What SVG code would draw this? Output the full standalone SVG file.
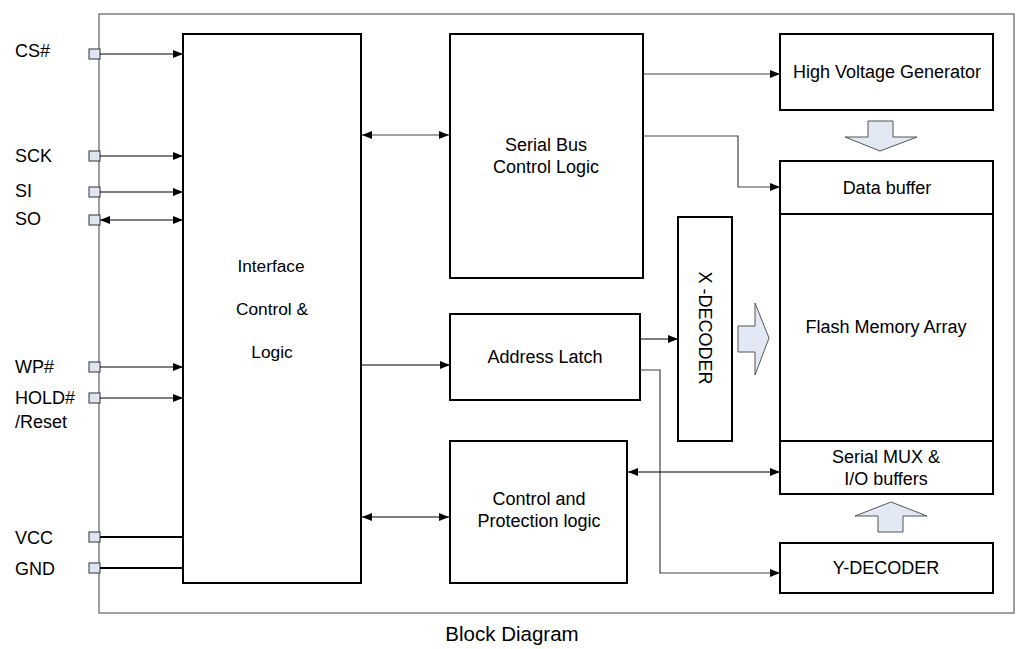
<svg xmlns="http://www.w3.org/2000/svg" width="1024" height="649" viewBox="0 0 1024 649">
<defs>
<marker id="ah" viewBox="0 0 10 8" refX="10" refY="4" markerWidth="10" markerHeight="8" markerUnits="userSpaceOnUse" orient="auto-start-reverse">
<path d="M0,0 L10,4 L0,8 Z" fill="#000"/>
</marker>
<style>
.blk{fill:#fff;stroke:#000;stroke-width:2}
.t{font-family:"Liberation Sans",Arial,sans-serif;font-size:18px;fill:#000;text-anchor:middle}
.ti{font-family:"Liberation Sans",Arial,sans-serif;font-size:17.3px;fill:#000;text-anchor:middle}
.pl{font-family:"Liberation Sans",Arial,sans-serif;font-size:18px;fill:#000}
.pin{fill:#dfe6f2;stroke:#333;stroke-width:1}
.c{fill:none;stroke:#000;stroke-width:1.2}
.cg{fill:none;stroke:#444;stroke-width:1.2}
.big{fill:#e3e9f4;stroke:#555;stroke-width:1}
</style>
</defs>
<rect width="1024" height="649" fill="#fff"/>
<rect id="frame" x="99" y="14" width="915" height="599" fill="none" stroke="#808080" stroke-width="1.5"/>

<g id="pins">
<rect class="pin" x="89" y="49" width="11" height="10"/>
<rect class="pin" x="89" y="151" width="11" height="10"/>
<rect class="pin" x="89" y="187" width="11" height="10"/>
<rect class="pin" x="89" y="215" width="11" height="10"/>
<rect class="pin" x="89" y="362" width="11" height="10"/>
<rect class="pin" x="89" y="393" width="11" height="10"/>
<rect class="pin" x="89" y="532" width="11" height="10"/>
<rect class="pin" x="89" y="563" width="11" height="10"/>
<text class="pl" x="15" y="57">CS#</text>
<text class="pl" x="15" y="162">SCK</text>
<text class="pl" x="15" y="197">SI</text>
<text class="pl" x="15" y="225">SO</text>
<text class="pl" x="15" y="373">WP#</text>
<text class="pl" x="15" y="404">HOLD#</text>
<text class="pl" x="15" y="428">/Reset</text>
<text class="pl" x="15" y="544">VCC</text>
<text class="pl" x="15" y="575">GND</text>
</g>

<g id="interface"><rect class="blk" x="183" y="34" width="178" height="549"/>
<text class="ti" x="271" y="272">Interface</text>
<text class="ti" x="272" y="315">Control &amp;</text>
<text class="ti" x="272" y="358">Logic</text></g>

<g id="serialbus"><rect class="blk" x="450" y="34" width="193" height="244"/>
<text class="t" x="546" y="151">Serial Bus</text>
<text class="t" x="546" y="173">Control Logic</text></g>

<g id="hvg"><rect class="blk" x="780" y="34" width="213" height="76"/>
<text class="t" x="887" y="78">High Voltage Generator</text></g>

<g id="databuffer"><rect class="blk" x="780" y="161" width="213" height="53"/>
<text class="t" x="887" y="194">Data buffer</text></g>

<g id="flash"><rect class="blk" x="780" y="214" width="213" height="227"/>
<text class="t" x="886" y="333">Flash Memory Array</text></g>

<g id="mux"><rect class="blk" x="780" y="441" width="213" height="53"/>
<text class="t" x="886" y="463">Serial MUX &amp;</text>
<text class="t" x="886" y="485">I/O buffers</text></g>

<g id="ydec"><rect class="blk" x="780" y="543" width="213" height="50"/>
<text class="t" x="886" y="574">Y-DECODER</text></g>

<g id="xdec"><rect class="blk" x="678" y="217" width="54" height="224"/>
<text class="t" transform="translate(699,328) rotate(90)">X -DECODER</text></g>

<g id="addrlatch"><rect class="blk" x="450" y="314" width="190" height="86"/>
<text class="t" x="545" y="363">Address Latch</text></g>

<g id="ctrlprot"><rect class="blk" x="450" y="441" width="177" height="142"/>
<text class="t" x="539" y="505">Control and</text>
<text class="t" x="539" y="527">Protection logic</text></g>

<g id="bigarrows">
<path class="big" d="M868,121 H893 V137 H917 L880,151 L845,137 H868 Z"/>
<path class="big" d="M738,326 H755 V303 L769,338 L755,375 V352 H738 Z"/>
<path class="big" d="M878,532 H903 V516 H927 L891,502 L855,516 H878 Z"/>
</g>

<g id="connectors">
<line class="c" x1="100" y1="54" x2="183" y2="54" marker-end="url(#ah)"/>
<line class="c" x1="100" y1="156" x2="183" y2="156" marker-end="url(#ah)"/>
<line class="c" x1="100" y1="192" x2="183" y2="192" marker-end="url(#ah)"/>
<line class="c" x1="100" y1="220" x2="183" y2="220" marker-start="url(#ah)" marker-end="url(#ah)"/>
<line class="c" x1="100" y1="367" x2="183" y2="367" marker-end="url(#ah)"/>
<line class="c" x1="100" y1="398" x2="183" y2="398" marker-end="url(#ah)"/>
<line x1="100" y1="537" x2="183" y2="537" stroke="#000" stroke-width="2"/>
<line x1="100" y1="568" x2="183" y2="568" stroke="#000" stroke-width="2"/>
<line class="cg" x1="362" y1="135" x2="449" y2="135" marker-start="url(#ah)" marker-end="url(#ah)"/>
<line class="cg" x1="643" y1="74" x2="780" y2="74" marker-end="url(#ah)"/>
<polyline class="cg" points="643,136 738,136 738,187 780,187" marker-end="url(#ah)"/>
<line class="c" x1="361" y1="365" x2="450" y2="365" marker-end="url(#ah)"/>
<line class="c" x1="640" y1="339" x2="678" y2="339" marker-end="url(#ah)"/>
<polyline class="cg" points="640,370 660,370 660,573 780,573" marker-end="url(#ah)"/>
<line class="c" x1="628" y1="472" x2="780" y2="472" marker-start="url(#ah)" marker-end="url(#ah)"/>
<line class="c" x1="362" y1="517" x2="449" y2="517" marker-start="url(#ah)" marker-end="url(#ah)"/>
</g>

<text x="512" y="641" style="font-family:'Liberation Sans',Arial,sans-serif;font-size:20.5px;fill:#000;text-anchor:middle">Block Diagram</text>
</svg>
